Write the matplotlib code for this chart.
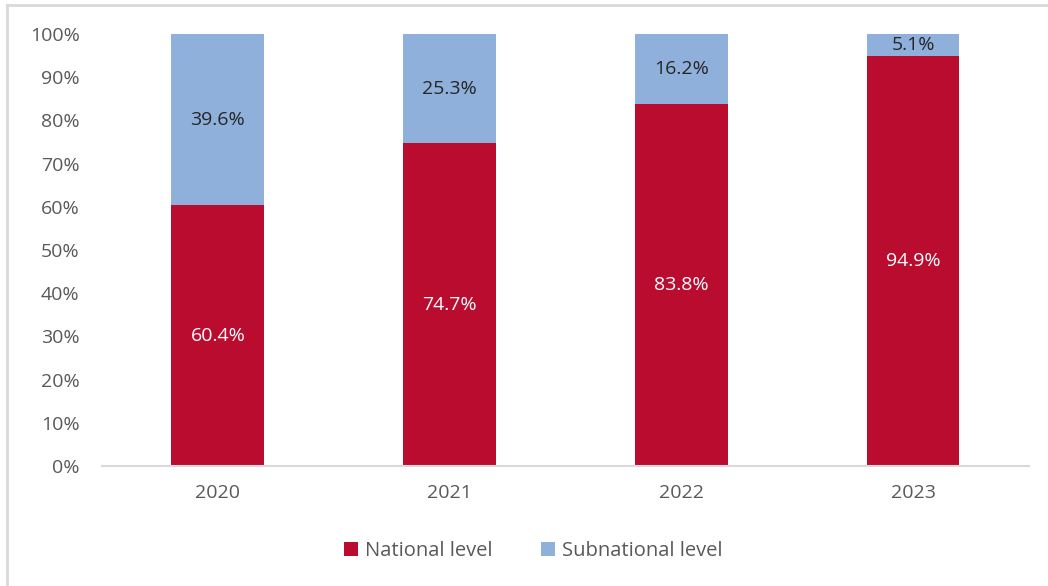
import matplotlib.pyplot as plt
from matplotlib.lines import Line2D

years = ['2020', '2021', '2022', '2023']
national = [60.4, 74.7, 83.8, 94.9]
subnational = [39.6, 25.3, 16.2, 5.1]

red = '#BA0C2F'
blue = '#8EB0DA'
grey = '#595959'

plt.rcParams['font.family'] = ['Open Sans', 'DejaVu Sans']

fig = plt.figure(figsize=(10.48, 5.86), dpi=100)
ax = fig.add_axes([0.0973, 0.2048, 0.8845, 0.7372])

x = range(len(years))
ax.bar(x, national, width=0.4, color=red, label='National level')
ax.bar(x, subnational, width=0.4, bottom=national, color=blue,
       label='Subnational level')

# data labels
for i in x:
    ax.text(i, national[i] / 2, f'{national[i]:.1f}%', ha='center', va='center',
            color='white', fontsize=14)
    ax.text(i, national[i] + subnational[i] / 2, f'{subnational[i]:.1f}%',
            ha='center', va='center', color='#262626', fontsize=14)

ax.set_xlim(-0.5, 3.5)
ax.set_ylim(0, 100)
ax.set_yticks(range(0, 101, 10))
ax.set_yticklabels([f'{v}%' for v in range(0, 101, 10)])
ax.set_xticks(list(x))
ax.set_xticklabels(years)
ax.tick_params(axis='both', length=0, colors=grey, labelsize=14)
ax.tick_params(axis='x', pad=13)
ax.tick_params(axis='y', pad=16)
for s in ['top', 'right', 'left']:
    ax.spines[s].set_visible(False)
ax.spines['bottom'].set_color('#D9D9D9')
ax.spines['bottom'].set_linewidth(1.5)

leg = fig.legend(loc='center', bbox_to_anchor=(0.509, 0.06), ncol=2, frameon=False,
                 fontsize=14.5, handlelength=0.7, handleheight=0.7,
                 columnspacing=2.4, handletextpad=0.35)
for t in leg.get_texts():
    t.set_color(grey)

# outer frame (only top and left edges visible in the original crop)
fig.lines.append(Line2D([0.007, 1.0], [0.992, 0.992], transform=fig.transFigure,
                        color='#D9D9D9', linewidth=2))
fig.lines.append(Line2D([0.007, 0.007], [0.0, 0.992], transform=fig.transFigure,
                        color='#D9D9D9', linewidth=2))

fig.savefig('out.png', dpi=100)
